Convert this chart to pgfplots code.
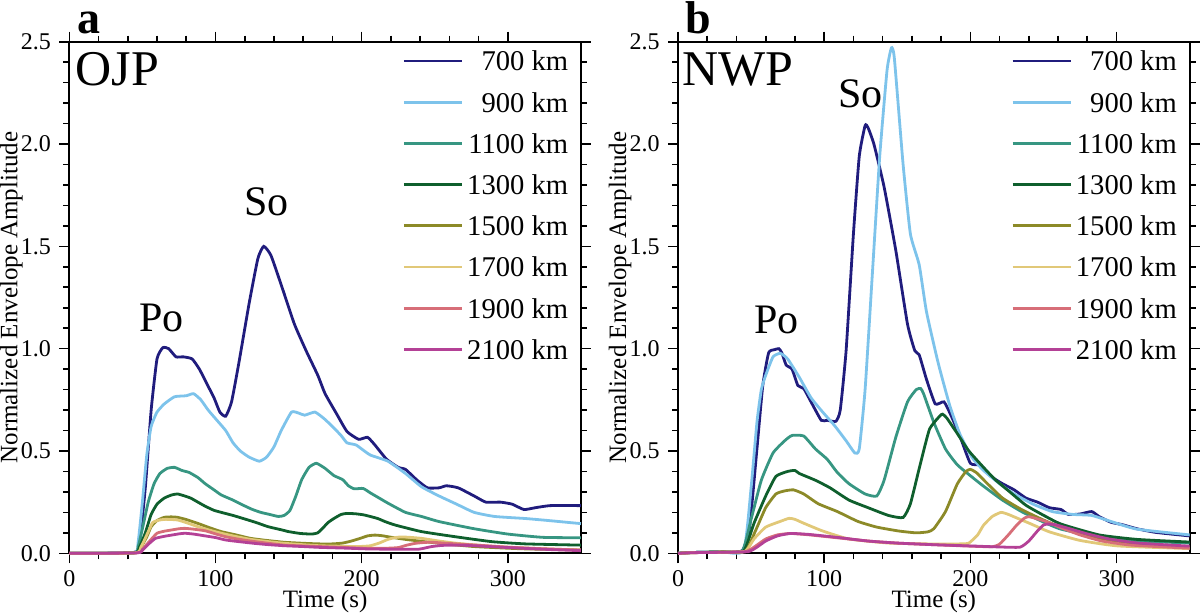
\documentclass[border=0pt]{standalone}
\usepackage{fontspec}
\setmainfont{Liberation Serif}
\usepackage{pgfplots}
\pgfplotsset{compat=1.18}
\definecolor{c700}{RGB}{32,28,125}
\definecolor{c900}{RGB}{125,195,235}
\definecolor{c1100}{RGB}{55,150,130}
\definecolor{c1300}{RGB}{15,95,45}
\definecolor{c1500}{RGB}{140,138,40}
\definecolor{c1700}{RGB}{225,200,120}
\definecolor{c1900}{RGB}{215,110,120}
\definecolor{c2100}{RGB}{180,65,150}
\pgfplotsset{
  panel/.style={
    scale only axis, width=255.8pt, height=255.8pt,
    xmin=0, xmax=350, ymin=0, ymax=2.5,
    xtick={0,100,200,300}, minor x tick num=4,
    ytick={0,0.5,1,1.5,2,2.5}, minor y tick num=4,
    tick align=outside,
    major tick length=5pt, minor tick length=3pt,
    axis line style={line width=1pt},
    every tick/.style={line width=0.8pt, black},
    tick label style={font=\fontsize{12}{14}\selectfont},
    /pgf/number format/assume math mode=true,
    xticklabel style={inner sep=0pt, yshift=-3.2pt},
    yticklabel style={inner sep=0pt, xshift=-4pt, /pgf/number format/fixed,/pgf/number format/fixed zerofill,/pgf/number format/precision=1},
    xlabel={Time (s)}, ylabel={Normalized Envelope Amplitude},
    label style={font=\fontsize{12.5}{15}\selectfont},
    xlabel style={at={(axis description cs:0.5,-0.1055)}, anchor=base, inner sep=0pt},
    ylabel style={at={(axis description cs:-0.1016,0.5)}, anchor=base, inner sep=0pt},
    clip=false,
    legend cell align=right,
    legend style={at={(rel axis cs:1,1)}, anchor=north east, xshift=-3.2pt, yshift=-2.4pt,
      draw=none, fill=none, font=\fontsize{14.3}{17}\selectfont,
      row sep=10.6pt, column sep=2pt,
      nodes={inner sep=0pt, text height=10pt, text depth=0pt}},
    legend image code/.code={\draw[#1] (0pt,0pt) -- (29pt,0pt);},
    every axis plot/.append style={line width=1.4pt, smooth, tension=0.3},
  }
}
\begin{document}
\begin{tikzpicture}
\useasboundingbox (0,0) rectangle (600pt,306pt);
% ---------------- panel a ----------------
\begin{axis}[panel, at={(34.65pt,29.35pt)}, anchor=south west]
\addplot[c700] coordinates {(0,0) (44,0.004) (48,0.05) (52,0.32) (56,0.70) (60,0.95) (64,1.005) (68,1.0) (73,0.96) (78,0.96) (84,0.95) (89,0.90) (94,0.83) (99,0.76) (103,0.69) (107,0.67) (111,0.74) (116,0.93) (123,1.22) (129,1.44) (133,1.50) (138,1.455) (146,1.29) (154,1.12) (162,0.99) (170,0.87) (175,0.78) (183,0.68) (190,0.595) (198,0.557) (204,0.567) (209,0.53) (217,0.46) (225,0.42) (230,0.41) (238,0.357) (245,0.32) (253,0.32) (258,0.33) (266,0.32) (277,0.28) (285,0.25) (295,0.25) (303,0.24) (311,0.214) (319,0.223) (329,0.233) (350,0.233)};
\addlegendentry{700 km}
\addplot[c900] coordinates {(0,0) (44,0.003) (47,0.05) (50,0.25) (53,0.48) (56,0.62) (60,0.69) (65,0.73) (72,0.765) (80,0.77) (85,0.78) (90,0.75) (95,0.70) (101,0.65) (107,0.60) (112,0.54) (117,0.50) (123,0.47) (130,0.45) (135,0.47) (140,0.52) (145,0.60) (152,0.69) (157,0.685) (161,0.675) (168,0.69) (174,0.66) (180,0.62) (186,0.575) (190,0.54) (196,0.53) (200,0.51) (206,0.48) (218,0.45) (230,0.39) (241,0.325) (253,0.28) (265,0.24) (277,0.20) (291,0.18) (312,0.17) (328,0.16) (350,0.145)};
\addlegendentry{900 km}
\addplot[c1100] coordinates {(0,0) (44,0.002) (47,0.03) (50,0.12) (54,0.25) (58,0.34) (62,0.39) (67,0.415) (72,0.42) (77,0.405) (82,0.395) (88,0.37) (93,0.34) (99,0.31) (104,0.285) (112,0.26) (119,0.235) (125,0.215) (131,0.2) (137,0.19) (143,0.18) (147,0.185) (151,0.21) (155,0.28) (159,0.36) (164,0.42) (169,0.44) (175,0.415) (181,0.38) (187,0.36) (191,0.33) (195,0.315) (201,0.317) (206,0.295) (212,0.27) (218,0.245) (230,0.2) (241,0.18) (253,0.155) (277,0.12) (300,0.094) (324,0.078) (350,0.076)};
\addlegendentry{1100 km}
\addplot[c1300] coordinates {(0,0) (44,0.002) (48,0.03) (52,0.10) (56,0.19) (60,0.24) (65,0.27) (70,0.285) (74,0.29) (79,0.28) (83,0.27) (88,0.25) (93,0.23) (99,0.21) (104,0.20) (112,0.185) (119,0.17) (128,0.15) (136,0.13) (145,0.115) (150,0.106) (158,0.097) (166,0.094) (170,0.1) (173,0.12) (177,0.15) (181,0.17) (186,0.19) (190,0.195) (196,0.193) (202,0.187) (211,0.17) (216,0.155) (223,0.138) (241,0.106) (265,0.08) (289,0.057) (312,0.046) (350,0.04)};
\addlegendentry{1300 km}
\addplot[c1500] coordinates {(0,0) (45,0.002) (49,0.03) (53,0.08) (56,0.13) (60,0.16) (65,0.176) (70,0.178) (74,0.176) (80,0.165) (88,0.146) (96,0.125) (104,0.106) (114,0.09) (124,0.073) (135,0.063) (147,0.054) (160,0.049) (171,0.046) (180,0.046) (187,0.05) (193,0.06) (199,0.073) (204,0.085) (209,0.089) (214,0.086) (218,0.081) (230,0.068) (253,0.049) (277,0.033) (310,0.022) (350,0.016)};
\addlegendentry{1500 km}
\addplot[c1700] coordinates {(0,0) (45,0.002) (49,0.03) (53,0.09) (57,0.15) (62,0.163) (66,0.166) (70,0.165) (74,0.163) (80,0.15) (88,0.13) (96,0.113) (104,0.098) (114,0.082) (124,0.068) (135,0.058) (147,0.049) (160,0.042) (171,0.037) (183,0.035) (195,0.033) (201,0.034) (206,0.037) (212,0.05) (218,0.068) (223,0.077) (227,0.08) (233,0.078) (241,0.073) (253,0.06) (265,0.049) (283,0.038) (300,0.03) (325,0.022) (350,0.016)};
\addlegendentry{1700 km}
\addplot[c1900] coordinates {(0,0) (46,0.002) (50,0.02) (55,0.06) (60,0.098) (65,0.108) (70,0.114) (75,0.12) (79,0.122) (85,0.118) (93,0.11) (100,0.095) (107,0.081) (115,0.07) (124,0.06) (135,0.05) (147,0.04) (160,0.036) (171,0.033) (190,0.028) (206,0.024) (218,0.025) (225,0.028) (231,0.04) (237,0.049) (243,0.053) (248,0.054) (256,0.05) (265,0.046) (283,0.038) (300,0.03) (325,0.022) (350,0.016)};
\addlegendentry{1900 km}
\addplot[c2100] coordinates {(0,0) (46,0.002) (50,0.015) (55,0.05) (59,0.073) (65,0.083) (70,0.089) (75,0.095) (79,0.098) (85,0.094) (93,0.085) (100,0.077) (107,0.065) (116,0.057) (126,0.049) (135,0.043) (147,0.037) (160,0.033) (171,0.029) (190,0.025) (206,0.021) (225,0.02) (239,0.02) (244,0.027) (248,0.033) (254,0.038) (260,0.04) (270,0.039) (277,0.037) (295,0.03) (312,0.024) (330,0.018) (350,0.013)};
\addlegendentry{2100 km}
\node[anchor=base west, inner sep=0pt, font=\bfseries\fontsize{23}{28}\selectfont, xshift=3.7pt, yshift=4.2pt] at (rel axis cs:0,1) {a};
\node[anchor=base west, inner sep=0pt, font=\fontsize{25}{30}\selectfont, xshift=3pt, yshift=-21.65pt] at (rel axis cs:0,1) {OJP};
\node[anchor=base, inner sep=0pt, font=\fontsize{21}{25}\selectfont] at (axis cs:63,1.083) {Po};
\node[anchor=base, inner sep=0pt, font=\fontsize{21}{25}\selectfont] at (axis cs:135,1.65) {So};
\end{axis}
% ---------------- panel b ----------------
\begin{axis}[panel, at={(339pt,29.35pt)}, anchor=south west]
\addplot[c700] coordinates {(0,0) (10,0.004) (30,0.007) (44,0.013) (49,0.13) (54,0.51) (58,0.82) (62,0.98) (66,0.995) (69,1.0) (71,0.98) (74,0.92) (78,0.90) (82,0.82) (86,0.805) (91,0.74) (98,0.65) (102,0.65) (108,0.645) (111,0.70) (115,0.99) (120,1.56) (124,1.94) (128,2.09) (130,2.08) (134,2.0) (141,1.79) (149,1.48) (157,1.12) (162,0.99) (165,0.97) (170,0.85) (176,0.73) (182,0.74) (187,0.67) (193,0.57) (200,0.44) (207,0.43) (214,0.376) (222,0.34) (230,0.31) (238,0.27) (246,0.25) (254,0.223) (262,0.214) (267,0.19) (275,0.192) (283,0.204) (288,0.18) (296,0.152) (304,0.14) (314,0.12) (327,0.102) (350,0.085)};
\addlegendentry{700 km}
\addplot[c900] coordinates {(0,0) (10,0.004) (30,0.007) (45,0.013) (50,0.32) (54,0.64) (57,0.80) (60,0.87) (65,0.96) (70,0.977) (75,0.95) (83,0.86) (91,0.76) (99,0.69) (107,0.625) (115,0.55) (121,0.49) (124,0.51) (128,0.80) (133,1.37) (138,1.94) (143,2.36) (146,2.47) (148,2.42) (154,1.90) (159,1.56) (165,1.41) (170,1.18) (178,0.93) (186,0.72) (193,0.58) (201,0.47) (209,0.405) (220,0.34) (230,0.29) (243,0.24) (256,0.204) (270,0.19) (283,0.185) (296,0.156) (314,0.118) (350,0.09)};
\addlegendentry{900 km}
\addplot[c1100] coordinates {(0,0) (10,0.004) (30,0.007) (44,0.012) (50,0.166) (57,0.357) (65,0.49) (73,0.55) (78,0.576) (86,0.573) (94,0.51) (102,0.46) (109,0.395) (117,0.34) (128,0.29) (136,0.28) (141,0.357) (149,0.567) (157,0.74) (163,0.80) (166,0.805) (168,0.78) (175,0.64) (183,0.51) (191,0.433) (199,0.385) (209,0.328) (222,0.26) (235,0.204) (249,0.156) (262,0.118) (288,0.08) (314,0.061) (350,0.05)};
\addlegendentry{1100 km}
\addplot[c1300] coordinates {(0,0) (10,0.004) (30,0.007) (45,0.012) (52,0.147) (60,0.28) (67,0.376) (75,0.40) (80,0.405) (83,0.39) (94,0.357) (104,0.32) (117,0.26) (130,0.223) (144,0.185) (154,0.175) (159,0.242) (165,0.414) (172,0.605) (179,0.67) (181,0.68) (184,0.66) (191,0.586) (199,0.50) (209,0.42) (217,0.36) (227,0.30) (238,0.235) (249,0.19) (262,0.143) (288,0.09) (314,0.068) (350,0.055)};
\addlegendentry{1300 km}
\addplot[c1500] coordinates {(0,0) (10,0.003) (30,0.006) (46,0.01) (53,0.11) (60,0.223) (67,0.29) (73,0.305) (79,0.31) (86,0.29) (96,0.242) (109,0.204) (123,0.156) (136,0.128) (151,0.109) (163,0.1) (171,0.105) (175,0.12) (183,0.204) (191,0.338) (197,0.40) (200,0.41) (204,0.395) (212,0.338) (222,0.27) (235,0.214) (249,0.166) (262,0.128) (288,0.075) (314,0.045) (350,0.032)};
\addlegendentry{1500 km}
\addplot[c1700] coordinates {(0,0) (10,0.003) (30,0.006) (46,0.01) (52,0.07) (60,0.128) (70,0.156) (76,0.171) (80,0.166) (86,0.147) (99,0.109) (117,0.07) (144,0.05) (170,0.046) (193,0.046) (199,0.05) (205,0.09) (209,0.137) (215,0.18) (221,0.2) (226,0.19) (232,0.172) (241,0.145) (254,0.105) (275,0.063) (301,0.036) (350,0.023)};
\addlegendentry{1700 km}
\addplot[c1900] coordinates {(0,0) (10,0.003) (30,0.005) (46,0.008) (52,0.03) (60,0.07) (68,0.09) (77,0.097) (90,0.09) (110,0.075) (130,0.06) (150,0.05) (175,0.042) (200,0.035) (215,0.032) (220,0.045) (226,0.09) (232,0.14) (237,0.172) (240,0.179) (244,0.172) (252,0.155) (262,0.125) (275,0.09) (290,0.06) (310,0.04) (350,0.025)};
\addlegendentry{1900 km}
\addplot[c2100] coordinates {(0,0) (10,0.003) (30,0.005) (48,0.008) (54,0.03) (60,0.06) (68,0.085) (77,0.097) (90,0.092) (110,0.077) (130,0.06) (150,0.05) (175,0.042) (200,0.036) (220,0.031) (234,0.03) (240,0.06) (246,0.11) (250,0.138) (253,0.143) (258,0.14) (268,0.12) (280,0.095) (295,0.07) (315,0.05) (350,0.035)};
\addlegendentry{2100 km}
\node[anchor=base west, inner sep=0pt, font=\bfseries\fontsize{23}{28}\selectfont, xshift=3.7pt, yshift=4.2pt] at (rel axis cs:0,1) {b};
\node[anchor=base west, inner sep=0pt, font=\fontsize{25}{30}\selectfont, xshift=2pt, yshift=-21.65pt] at (rel axis cs:0,1) {NWP};
\node[anchor=base, inner sep=0pt, font=\fontsize{21}{25}\selectfont] at (axis cs:67.5,1.072) {Po};
\node[anchor=base, inner sep=0pt, font=\fontsize{21}{25}\selectfont] at (axis cs:125,2.18) {So};
\end{axis}
\end{tikzpicture}
\end{document}
